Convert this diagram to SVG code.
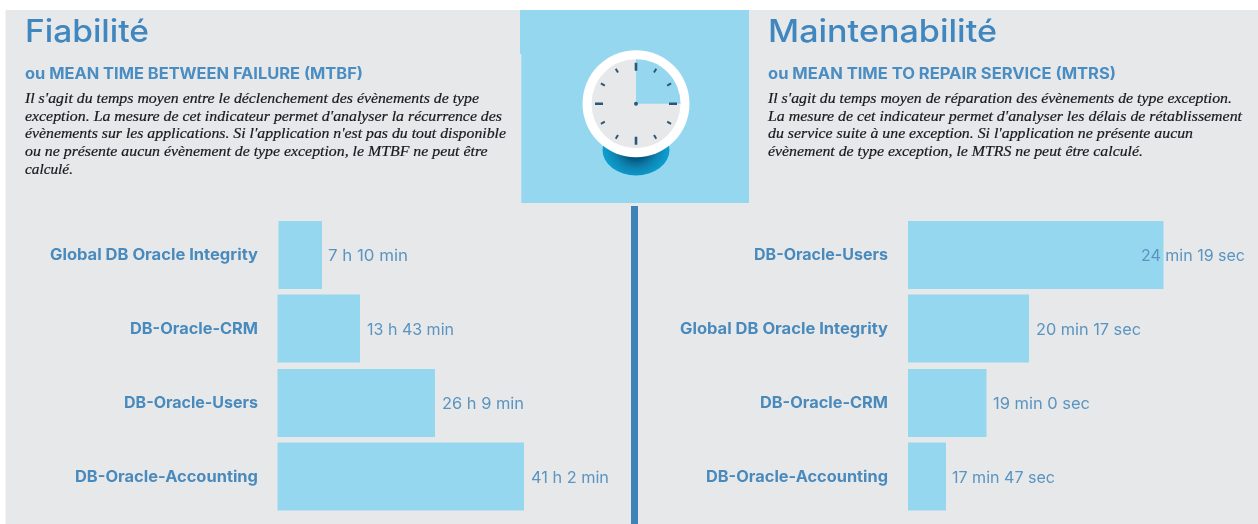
<svg xmlns="http://www.w3.org/2000/svg" width="1258" height="524" viewBox="0 0 1258 524">
<style>
.h{font-family:Inter,"Open Sans",sans-serif;font-size:31px;font-weight:500;fill:#4187bf}
.s{font-family:Inter,"Open Sans",sans-serif;font-size:15.4px;font-weight:700;fill:#4a8dc2}
.p{font-family:"Liberation Serif",serif;font-size:15.4px;font-style:italic;fill:#16181c;stroke:#16181c;stroke-width:.2}
.l{font-family:Inter,"Open Sans",sans-serif;font-size:15.8px;font-weight:700;fill:#4a8abd}
.v{font-family:Inter,"Open Sans",sans-serif;font-size:16.4px;font-weight:400;fill:#5a94c0}
.b{fill:#96d7f0}
.t{stroke:#2b5878;fill:none}
.m{stroke-width:2}
</style>
<defs>
<filter id="soft" x="-5%" y="-5%" width="110%" height="110%"><feGaussianBlur stdDeviation="0.35"/></filter>
<radialGradient id="sh" gradientUnits="userSpaceOnUse" cx="636" cy="146" r="32"><stop offset="0.4" stop-color="#05587f"/><stop offset="0.72" stop-color="#0a86b5"/><stop offset="1" stop-color="#0e9ccc"/></radialGradient>
</defs>
<rect width="1258" height="524" fill="#fff"/>
<rect id="background" x="5.5" y="10" width="1252.5" height="514" fill="#e7e8ea"/>
<g id="clock-panel">
<path class="b" d="M520 10H749V203H521.3V54H520Z"/>
<ellipse cx="636" cy="150" rx="33.5" ry="25.5" fill="url(#sh)" filter="url(#soft)"/>
<circle cx="636" cy="103.7" r="53.5" fill="#fff"/>
<circle cx="636" cy="103.7" r="44.5" fill="#e7e8ea"/>
<path class="b" d="M636 103.7V59.2A44.5 44.5 0 0 1 680.5 103.7Z"/>
<g class="t" stroke-width="2.6" transform="translate(636 103.7)" filter="url(#soft)">
<path d="M0-41V-33M41 0H33M0 41V33M-41 0H-33"/>
<path class="m" d="M0-40.5V-36" transform="rotate(30)"/>
<path class="m" d="M0-40.5V-36" transform="rotate(60)"/>
<path class="m" d="M0-40.5V-36" transform="rotate(120)"/>
<path class="m" d="M0-40.5V-36" transform="rotate(150)"/>
<path class="m" d="M0-40.5V-36" transform="rotate(210)"/>
<path class="m" d="M0-40.5V-36" transform="rotate(240)"/>
<path class="m" d="M0-40.5V-36" transform="rotate(300)"/>
<path class="m" d="M0-40.5V-36" transform="rotate(330)"/>
</g>
<circle cx="636" cy="103.7" r="2" fill="#2b5878"/>
</g>
<rect id="divider" x="631" y="206" width="7" height="318" fill="#3f82b8"/>
<g id="fiabilite-text" filter="url(#soft)">
<text class="h" x="25" y="41.5" textLength="124" lengthAdjust="spacingAndGlyphs">Fiabilité</text>
<text class="s" x="25" y="78.5" textLength="338" lengthAdjust="spacingAndGlyphs">ou MEAN TIME BETWEEN FAILURE (MTBF)</text>
<text class="p" x="25" y="103" textLength="454" lengthAdjust="spacingAndGlyphs">Il s'agit du temps moyen entre le déclenchement des évènements de type</text>
<text class="p" x="25" y="120.7" textLength="477" lengthAdjust="spacingAndGlyphs">exception. La mesure de cet indicateur permet d'analyser la récurrence des</text>
<text class="p" x="25" y="138.3" textLength="481" lengthAdjust="spacingAndGlyphs">évènements sur les applications. Si l'application n'est pas du tout disponible</text>
<text class="p" x="25" y="156" textLength="462.5" lengthAdjust="spacingAndGlyphs">ou ne présente aucun évènement de type exception, le MTBF ne peut être</text>
<text class="p" x="25" y="173.5" textLength="48" lengthAdjust="spacingAndGlyphs">calculé.</text>
</g>
<g id="maintenabilite-text" filter="url(#soft)">
<text class="h" x="768" y="41.5" textLength="229" lengthAdjust="spacingAndGlyphs">Maintenabilité</text>
<text class="s" x="768" y="78.5" textLength="348" lengthAdjust="spacingAndGlyphs">ou MEAN TIME TO REPAIR SERVICE (MTRS)</text>
<text class="p" x="768" y="103" textLength="464" lengthAdjust="spacingAndGlyphs">Il s'agit du temps moyen de réparation des évènements de type exception.</text>
<text class="p" x="768" y="120.7" textLength="474" lengthAdjust="spacingAndGlyphs">La mesure de cet indicateur permet d'analyser les délais de rétablissement</text>
<text class="p" x="768" y="138.3" textLength="425" lengthAdjust="spacingAndGlyphs">du service suite à une exception. Si l'application ne présente aucun</text>
<text class="p" x="768" y="156" textLength="375" lengthAdjust="spacingAndGlyphs">évènement de type exception, le MTRS ne peut être calculé.</text>
</g>
<g id="fiabilite-chart">
<g id="f1"><rect class="b" x="278.5" y="221" width="43.5" height="68"/><text class="l" x="50" y="260" textLength="208" lengthAdjust="spacingAndGlyphs" filter="url(#soft)">Global DB Oracle Integrity</text><text class="v" x="328" y="261" textLength="80" lengthAdjust="spacingAndGlyphs" filter="url(#soft)">7 h 10 min</text></g>
<g id="f2"><rect class="b" x="277.5" y="294.5" width="82.5" height="68"/><text class="l" x="130" y="334" textLength="128" lengthAdjust="spacingAndGlyphs" filter="url(#soft)">DB-Oracle-CRM</text><text class="v" x="367" y="335" textLength="87" lengthAdjust="spacingAndGlyphs" filter="url(#soft)">13 h 43 min</text></g>
<g id="f3"><rect class="b" x="277.5" y="369" width="157.5" height="68"/><text class="l" x="124" y="408" textLength="134" lengthAdjust="spacingAndGlyphs" filter="url(#soft)">DB-Oracle-Users</text><text class="v" x="442" y="409" textLength="82" lengthAdjust="spacingAndGlyphs" filter="url(#soft)">26 h 9 min</text></g>
<g id="f4"><rect class="b" x="277.5" y="442.5" width="246.5" height="68"/><text class="l" x="75" y="482" textLength="183" lengthAdjust="spacingAndGlyphs" filter="url(#soft)">DB-Oracle-Accounting</text><text class="v" x="531" y="483" textLength="78" lengthAdjust="spacingAndGlyphs" filter="url(#soft)">41 h 2 min</text></g>
</g>
<g id="maintenabilite-chart">
<g id="m1"><rect class="b" x="908" y="221" width="255.5" height="68"/><text class="l" x="754" y="260" textLength="134" lengthAdjust="spacingAndGlyphs" filter="url(#soft)">DB-Oracle-Users</text><text class="v" x="1141" y="261" textLength="104" lengthAdjust="spacingAndGlyphs" filter="url(#soft)">24 min 19 sec</text></g>
<g id="m2"><rect class="b" x="908" y="294.5" width="121" height="68"/><text class="l" x="680" y="334" textLength="208" lengthAdjust="spacingAndGlyphs" filter="url(#soft)">Global DB Oracle Integrity</text><text class="v" x="1036" y="335" textLength="105" lengthAdjust="spacingAndGlyphs" filter="url(#soft)">20 min 17 sec</text></g>
<g id="m3"><rect class="b" x="908" y="369" width="78.5" height="68"/><text class="l" x="760" y="408" textLength="128" lengthAdjust="spacingAndGlyphs" filter="url(#soft)">DB-Oracle-CRM</text><text class="v" x="993" y="409" textLength="97" lengthAdjust="spacingAndGlyphs" filter="url(#soft)">19 min 0 sec</text></g>
<g id="m4"><rect class="b" x="908" y="442.5" width="38" height="68"/><text class="l" x="706" y="482" textLength="182" lengthAdjust="spacingAndGlyphs" filter="url(#soft)">DB-Oracle-Accounting</text><text class="v" x="952" y="483" textLength="103" lengthAdjust="spacingAndGlyphs" filter="url(#soft)">17 min 47 sec</text></g>
</g>
</svg>
